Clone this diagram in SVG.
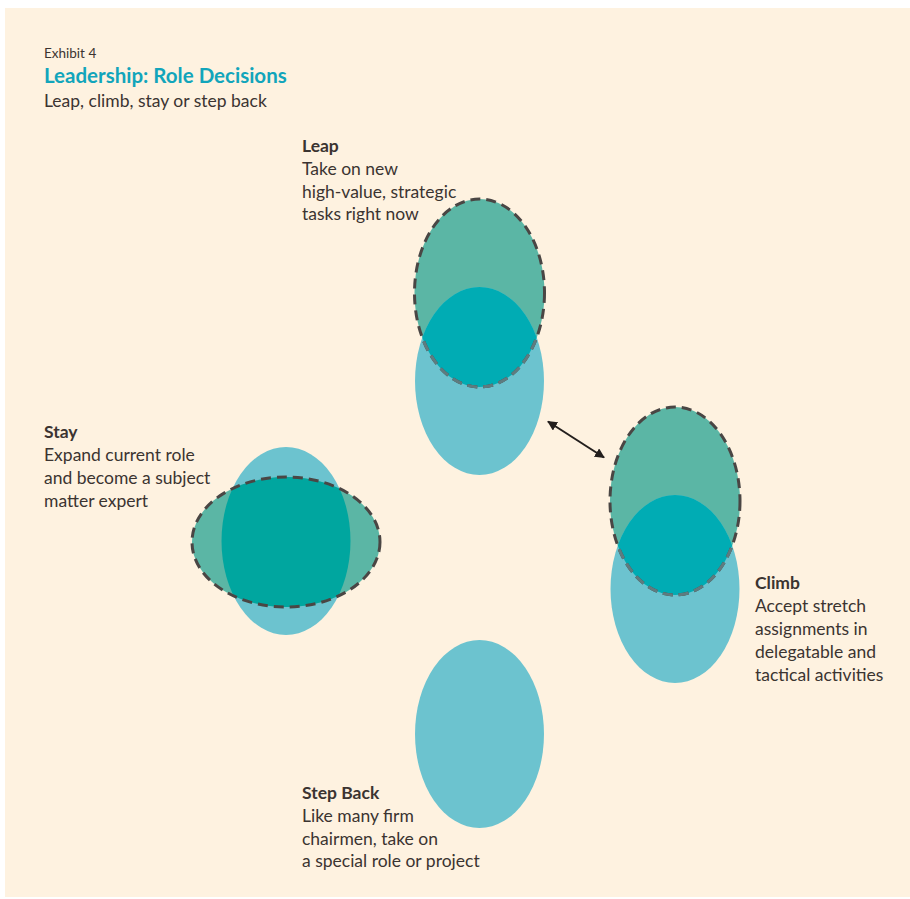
<svg xmlns="http://www.w3.org/2000/svg" width="910" height="899" viewBox="0 0 910 899">
<defs>
<style>
.t{font-family:"Lato","Open Sans","Liberation Sans",sans-serif;fill:#3b3431;font-size:17.5px}
.b{font-weight:bold}
.h{font-family:"Lato","Open Sans","Liberation Sans",sans-serif;fill:#12a5bb;font-size:20.5px;font-weight:bold}
.blue{fill:#6cc3cf}
.green{fill:#5bb6a5}
.dash{fill:none;stroke:#4a4644;stroke-width:3;stroke-dasharray:10 6}
.dashf{fill:none;stroke:#5e7c80;stroke-width:3;stroke-dasharray:10 6}
</style>
<marker id="ah" viewBox="0 0 10 10" refX="9" refY="5" markerWidth="5" markerHeight="5" orient="auto-start-reverse">
<path d="M0,0 L10,5 L0,10 z" fill="#231f1d"/>
</marker>
<clipPath id="cLeap"><ellipse cx="479.5" cy="381" rx="64.5" ry="94"/></clipPath>
<clipPath id="cClimb"><ellipse cx="675" cy="589" rx="64.5" ry="94"/></clipPath>
<clipPath id="cStay"><ellipse cx="286" cy="541" rx="64.5" ry="94"/></clipPath>
</defs>
<rect x="0" y="0" width="910" height="899" fill="#ffffff"/>
<rect x="5" y="8" width="905" height="889" fill="#fef2e0"/>

<g id="title">
<text class="t" x="44" y="58" style="font-size:13.5px">Exhibit 4</text>
<text class="h" x="44" y="83">Leadership: Role Decisions</text>
<text class="t" x="44" y="107">Leap, climb, stay or step back</text>
</g>

<g id="leap">
<ellipse class="green" cx="479.5" cy="293" rx="65" ry="94"/>
<ellipse class="blue" cx="479.5" cy="381" rx="64.5" ry="94"/>
<ellipse cx="479.5" cy="293" rx="65" ry="94" fill="#00acb4" clip-path="url(#cLeap)"/>
<ellipse class="dash" cx="479.5" cy="293" rx="65" ry="94"/>
<ellipse class="dashf" cx="479.5" cy="293" rx="65" ry="94" clip-path="url(#cLeap)"/>
<text class="t b" x="302" y="152">Leap</text>
<text class="t" x="302" y="175">Take on new</text>
<text class="t" x="302" y="198">high-value, strategic</text>
<text class="t" x="302" y="220">tasks right now</text>
</g>

<g id="stay">
<ellipse class="blue" cx="286" cy="541" rx="64.5" ry="94"/>
<ellipse class="green" cx="286" cy="542" rx="94" ry="65"/>
<ellipse cx="286" cy="542" rx="94" ry="65" fill="#00a69f" clip-path="url(#cStay)"/>
<ellipse class="dash" cx="286" cy="542" rx="94" ry="65"/>
<text class="t b" x="44" y="438">Stay</text>
<text class="t" x="44" y="461">Expand current role</text>
<text class="t" x="44" y="484">and become a subject</text>
<text class="t" x="44" y="507">matter expert</text>
</g>

<g id="climb">
<ellipse class="green" cx="675" cy="501" rx="65" ry="94"/>
<ellipse class="blue" cx="675" cy="589" rx="64.5" ry="94"/>
<ellipse cx="675" cy="501" rx="65" ry="94" fill="#00acb4" clip-path="url(#cClimb)"/>
<ellipse class="dash" cx="675" cy="501" rx="65" ry="94"/>
<ellipse class="dashf" cx="675" cy="501" rx="65" ry="94" clip-path="url(#cClimb)"/>
<text class="t b" x="755" y="589">Climb</text>
<text class="t" x="755" y="612">Accept stretch</text>
<text class="t" x="755" y="635">assignments in</text>
<text class="t" x="755" y="658">delegatable and</text>
<text class="t" x="755" y="681">tactical activities</text>
</g>

<g id="stepback">
<ellipse class="blue" cx="479.5" cy="734" rx="64.5" ry="94"/>
<text class="t b" x="302" y="799">Step Back</text>
<text class="t" x="302" y="822">Like many firm</text>
<text class="t" x="302" y="845">chairmen, take on</text>
<text class="t" x="302" y="867">a special role or project</text>
</g>

<g id="connectors">
<line x1="548" y1="421.5" x2="604" y2="457.5" stroke="#231f1d" stroke-width="2" marker-start="url(#ah)" marker-end="url(#ah)"/>
</g>
</svg>
